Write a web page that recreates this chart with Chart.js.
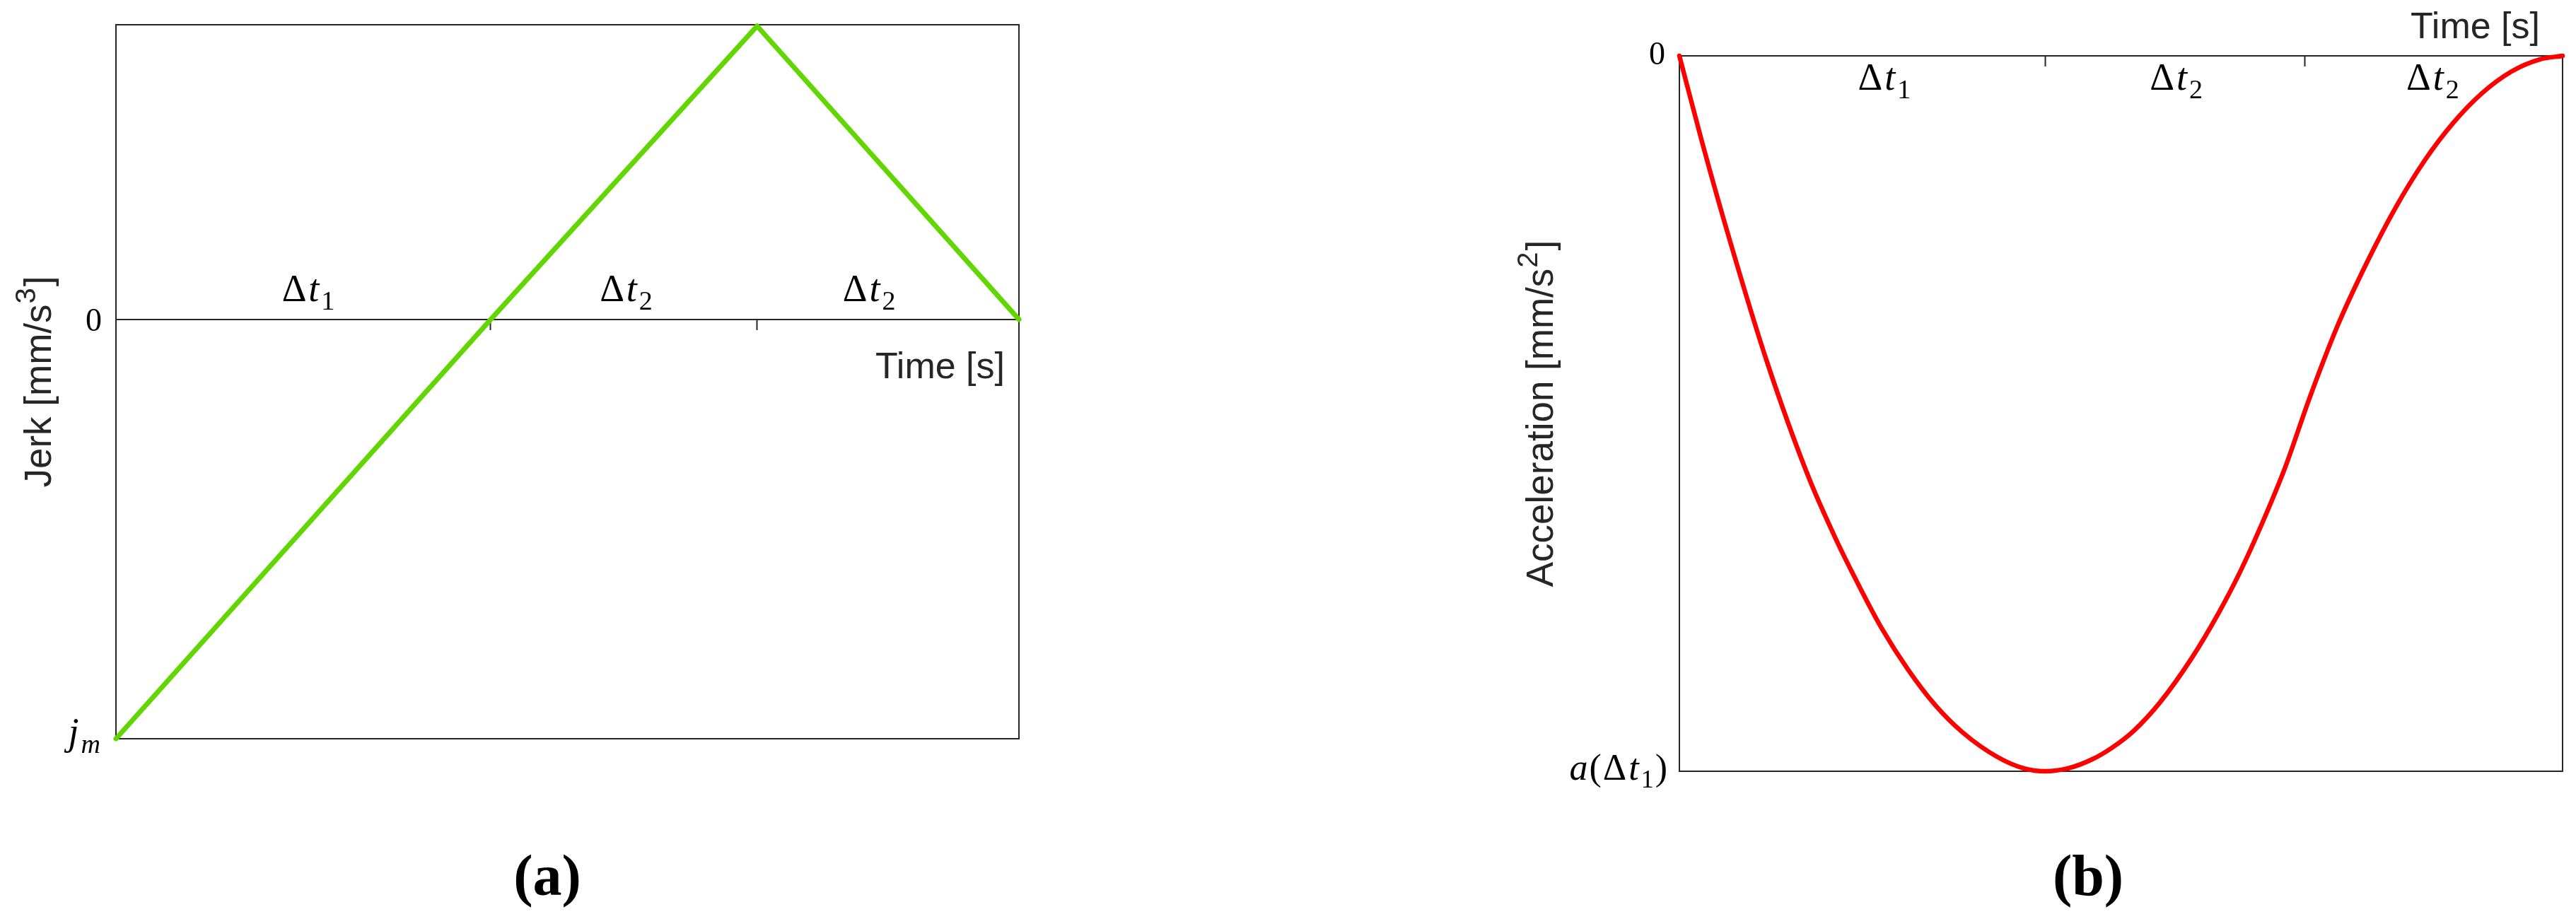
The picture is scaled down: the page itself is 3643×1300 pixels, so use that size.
<!DOCTYPE html>
<html>
<head>
<meta charset="utf-8">
<script src="https://cdn.jsdelivr.net/npm/chart.js@4/dist/chart.umd.min.js"></script>
<style>
html,body{margin:0;padding:0;background:#fff;}
#wrap{position:relative;width:3643px;height:1300px;overflow:hidden;background:#fff;}
canvas{position:absolute;left:0;top:0;}
</style>
</head>
<body>
<div id="wrap">
<canvas id="ca" width="3643" height="1300"></canvas>
<canvas id="cb" width="3643" height="1300"></canvas>
</div>
<script>
// ---------- (a) Jerk ----------
const jerkTime  = [0, 0.415, 0.71, 1.0];
const jerkValue = [-1, 0, 0.70, 0];
const jerkXTicks = [0.415, 0.71];
const jerkYMin = -1;          // j_m
const jerkYMax = 0.703;
const jerkSegLabelAt = [0.213, 0.565, 0.834];

// ---------- (b) Acceleration ----------
const accTime  = [0, 0.026, 0.059, 0.099, 0.146, 0.177, 0.201, 0.229, 0.259, 0.290, 0.321, 0.360, 0.390, 0.414,
                  0.440, 0.468, 0.490, 0.514, 0.544, 0.580, 0.610, 0.635, 0.660, 0.686, 0.713, 0.745, 0.778, 0.811,
                  0.844, 0.876, 0.909, 0.942, 0.974, 1.0];
const accValue = [0, -0.122, -0.266, -0.427, -0.588, -0.675, -0.735, -0.800, -0.858, -0.908, -0.946, -0.980, -0.996, -1.0,
                  -0.996, -0.983, -0.967, -0.944, -0.904, -0.842, -0.780, -0.721, -0.653, -0.575, -0.480, -0.378, -0.290, -0.212,
                  -0.146, -0.094, -0.052, -0.022, -0.005, 0];
const accXTicks = [0.414, 0.708];
const accYMin = -1;           // a(Δt1)
const accYMax = 0;
const accSegLabelAt = [0.232, 0.5625, 0.853];

const segLabelText = ['Δt1', 'Δt2', 'Δt2'];

const AXIS = '#262626';
const MATH = '"Liberation Serif", "DejaVu Serif", serif';
const SANS = '"Liberation Sans", Arial, Helvetica, sans-serif';

function runFont(kind, size) {
  const s = Math.round(size * 0.7);
  if (kind === 'it') return `italic ${size}px ${MATH}`;
  if (kind === 'sub') return `${s}px ${MATH}`;
  if (kind === 'subit') return `italic ${s}px ${MATH}`;
  return `${size}px ${MATH}`;
}
function mathWidth(ctx, runs, size) {
  let w = 0;
  for (const r of runs) { ctx.font = runFont(r[1], size); w += ctx.measureText(r[0]).width + (r[2] || 0); }
  return w;
}
function drawMath(ctx, runs, x, baseline, size, align) {
  const w = mathWidth(ctx, runs, size);
  let cx = align === 'center' ? x - w / 2 : (align === 'right' ? x - w : x);
  ctx.save();
  ctx.textAlign = 'left'; ctx.textBaseline = 'alphabetic'; ctx.fillStyle = '#000';
  for (const r of runs) {
    ctx.font = runFont(r[1], size);
    const dy = (r[1] === 'sub' || r[1] === 'subit') ? size * 0.22 : 0;
    ctx.fillText(r[0], cx, baseline + dy);
    cx += ctx.measureText(r[0]).width + (r[2] || 0);
  }
  ctx.restore();
}
function segRuns(txt) { return [['Δ', 'rm', 3], ['t', 'it', 3], [txt.slice(2), 'sub']]; }

function drawYTitle(ctx, baseX, cy, main, sup, tail) {
  const size = 53, supSize = 40;
  ctx.save();
  ctx.fillStyle = AXIS;
  ctx.textAlign = 'left'; ctx.textBaseline = 'alphabetic';
  ctx.font = `${size}px ${SANS}`;
  const w1 = ctx.measureText(main).width, w3 = ctx.measureText(tail).width;
  ctx.font = `${supSize}px ${SANS}`;
  const w2 = ctx.measureText(sup).width + 3;
  const total = w1 + w2 + w3;
  ctx.translate(baseX, cy);
  ctx.rotate(-Math.PI / 2);
  let x = -total / 2;
  ctx.font = `${size}px ${SANS}`; ctx.fillText(main, x, 0); x += w1;
  ctx.font = `${supSize}px ${SANS}`; ctx.fillText(sup, x + 1, -22); x += w2;
  ctx.font = `${size}px ${SANS}`; ctx.fillText(tail, x, 0);
  ctx.restore();
}
function drawSans(ctx, txt, x, baseline, align) {
  ctx.save();
  ctx.fillStyle = AXIS; ctx.font = `52px ${SANS}`;
  ctx.textAlign = align; ctx.textBaseline = 'alphabetic';
  ctx.fillText(txt, x, baseline);
  ctx.restore();
}
function drawCaption(ctx, letter, cx, baseline) {
  ctx.save();
  ctx.fillStyle = '#000';
  ctx.font = `bold 82px ${MATH}`;
  ctx.textAlign = 'center'; ctx.textBaseline = 'alphabetic';
  ctx.fillText('(' + letter + ')', cx, baseline);
  ctx.restore();
}

const annotA = {
  id: 'annotA',
  afterDraw(chart) {
    const ctx = chart.ctx, xs = chart.scales.x, ys = chart.scales.y, ca = chart.chartArea;
    const y0 = ys.getPixelForValue(0);
    drawMath(ctx, [['0', 'rm']], ca.left - 20, y0 + 16, 46, 'right');
    drawMath(ctx, [['j', 'it', 3], ['m', 'subit']], ca.left - 22, ys.getPixelForValue(jerkYMin) + 8, 54, 'right');
    jerkSegLabelAt.forEach((t, i) => drawMath(ctx, segRuns(segLabelText[i]), xs.getPixelForValue(t), y0 - 26, 54, 'center'));
    drawSans(ctx, 'Time [s]', ca.right - 20, y0 + 83, 'right');
    drawYTitle(ctx, 72, (ca.top + ca.bottom) / 2, 'Jerk [mm/s', '3', ']');
    drawCaption(ctx, 'a', 774, 1266);
  }
};
const annotB = {
  id: 'annotB',
  afterDraw(chart) {
    const ctx = chart.ctx, xs = chart.scales.x, ys = chart.scales.y, ca = chart.chartArea;
    const y0 = ys.getPixelForValue(0);
    drawMath(ctx, [['0', 'rm']], ca.left - 20, y0 + 12, 46, 'right');
    drawMath(ctx, [['a', 'it', 2], ['(', 'rm', 2], ['Δ', 'rm', 3], ['t', 'it', 3], ['1', 'sub', 2], [')', 'rm']],
             ca.left - 17, ys.getPixelForValue(accYMin) + 12, 52, 'right');
    accSegLabelAt.forEach((t, i) => drawMath(ctx, segRuns(segLabelText[i]), xs.getPixelForValue(t), y0 + 48, 54, 'center'));
    drawSans(ctx, 'Time [s]', ca.right - 32, y0 - 25, 'right');
    drawYTitle(ctx, 2196, (ca.top + ca.bottom) / 2, 'Acceleration [mm/s', '2', ']');
    drawCaption(ctx, 'b', 2953, 1266);
  }
};

const border = { display: true, width: 2, color: AXIS };
function frameAxis(pos, axis, min, max) {
  return { type: 'linear', axis: axis, position: pos, min: min, max: max,
           ticks: { display: false }, grid: { display: false, drawTicks: false }, border: border };
}
function makeChart(id, plugin, padding, time, vals, color, width, xTicks, yMin, yMax, originY, smooth) {
  return new Chart(document.getElementById(id), {
    type: 'line',
    data: { datasets: [{
      data: time.map((t, i) => ({ x: t, y: vals[i] })),
      borderColor: color, borderWidth: width, pointRadius: 0, fill: false,
      tension: 0, cubicInterpolationMode: smooth ? 'monotone' : 'default',
      borderCapStyle: 'round', borderJoinStyle: 'round', clip: false
    }]},
    options: {
      responsive: false, animation: false, events: [],
      layout: { padding: padding },
      plugins: { legend: { display: false }, tooltip: { enabled: false }, title: { display: false } },
      scales: {
        x: { type: 'linear', min: 0, max: 1, position: { y: originY },
             afterBuildTicks: s => { s.ticks = xTicks.map(v => ({ value: v })); },
             ticks: { display: false },
             grid: { display: true, drawOnChartArea: false, drawTicks: true, tickLength: 14, tickWidth: 2, tickColor: AXIS },
             border: border },
        xBottom: frameAxis('bottom', 'x', 0, 1),
        xTop: frameAxis('top', 'x', 0, 1),
        y: frameAxis('left', 'y', yMin, yMax),
        yRight: frameAxis('right', 'y', yMin, yMax)
      }
    },
    plugins: [plugin]
  });
}

makeChart('ca', annotA, { left: 164, top: 35, right: 3643 - 1441, bottom: 1300 - 1045 },
          jerkTime, jerkValue, '#62d600', 7, jerkXTicks, jerkYMin, jerkYMax, 0, false);
makeChart('cb', annotB, { left: 2375, top: 79, right: 3643 - 3624, bottom: 1300 - 1091 },
          accTime, accValue, '#ff0000', 6.5, accXTicks, accYMin, accYMax, 0, true);
</script>
</body>
</html>
